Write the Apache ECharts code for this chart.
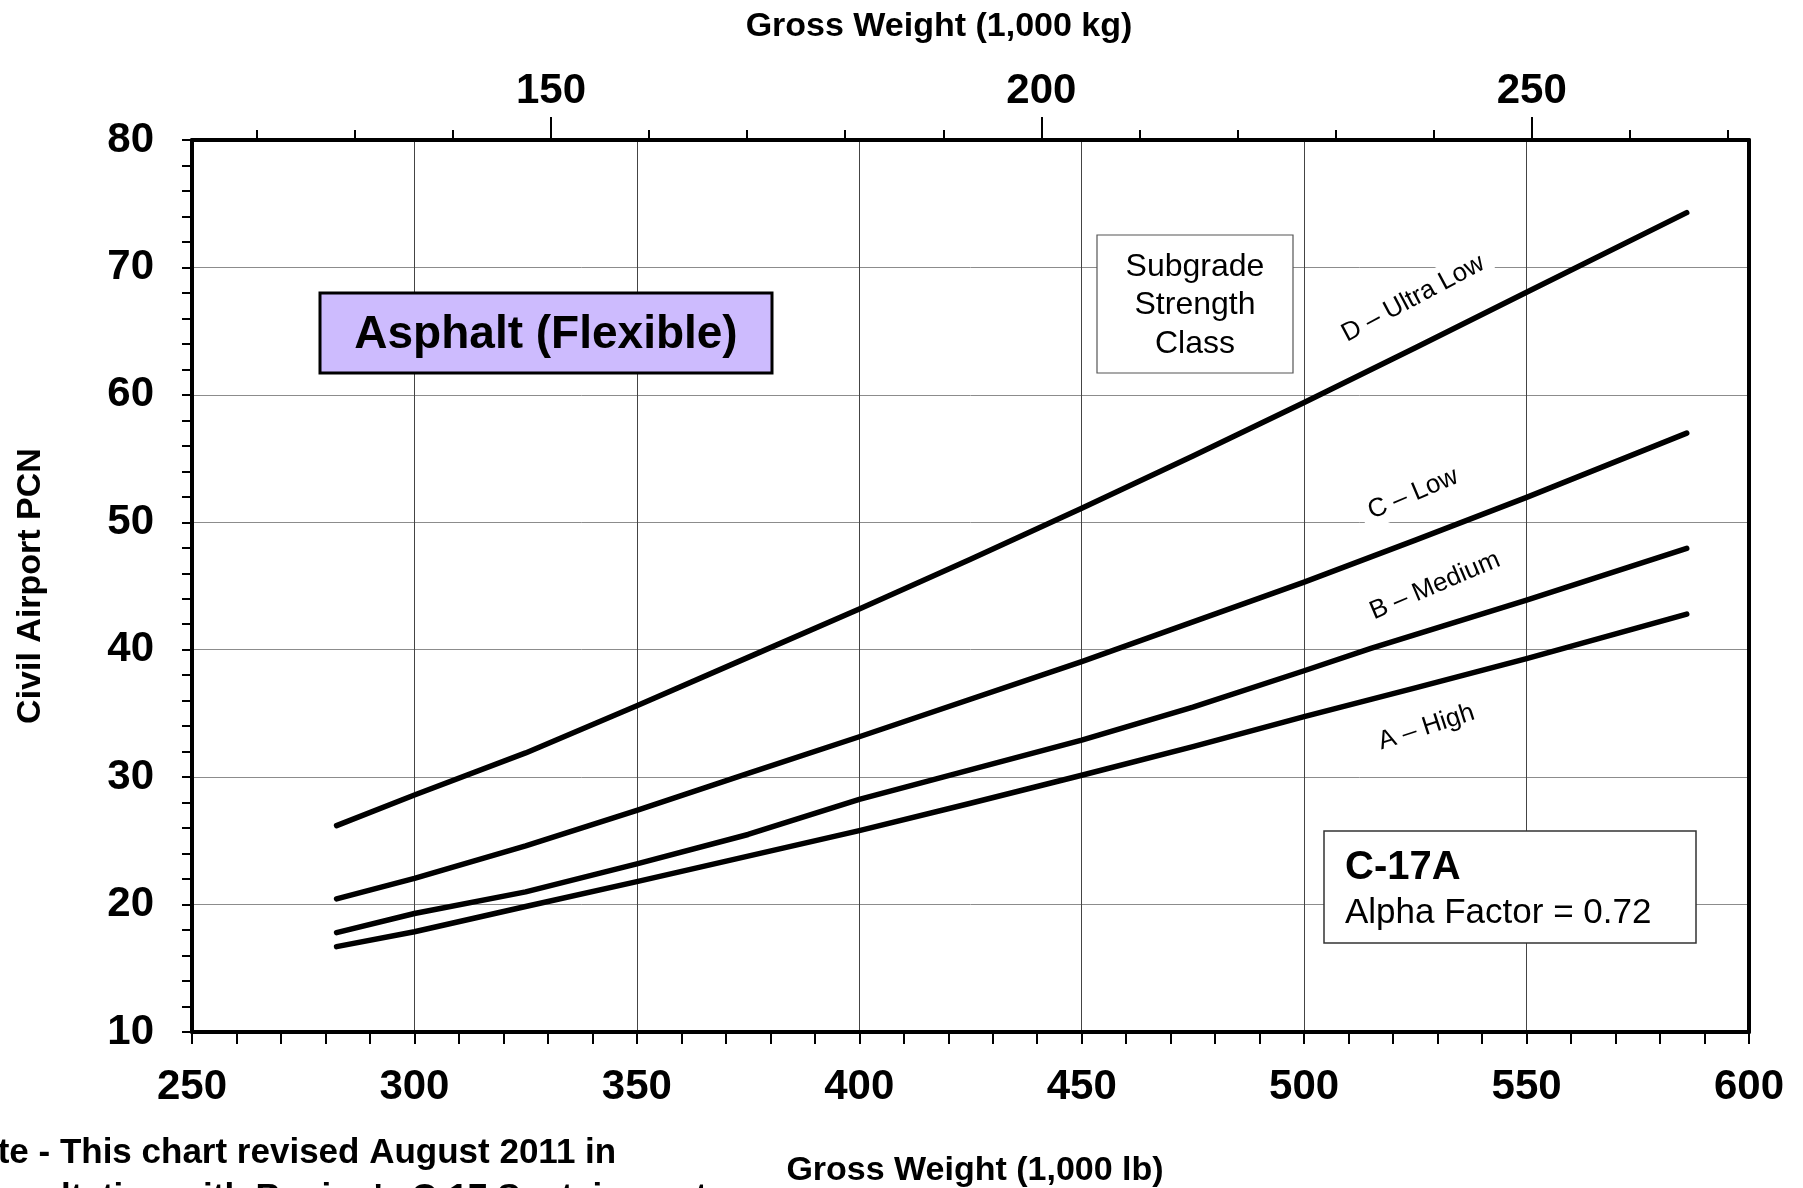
<!DOCTYPE html>
<html><head><meta charset="utf-8">
<script src="https://cdn.jsdelivr.net/npm/echarts@6/dist/echarts.min.js"></script>
<style>html,body{margin:0;padding:0;background:#fff}#c{width:1803px;height:1188px}</style>
</head><body><div id="c"></div>
<script>
// ---- data (Gross weight in 1,000 lb, Civil Airport PCN) ----
const seriesNames = ['D \u2013 Ultra Low', 'C \u2013 Low', 'B \u2013 Medium', 'A \u2013 High'];
const dUltraLow = [[282.5,26.2],[300,28.6],[325,31.9],[350,35.6],[375,39.4],[400,43.2],[425,47.1],[450,51.1],[475,55.2],[500,59.4],[525,63.7],[550,68.05],[586,74.3]];
const cLow      = [[282.5,20.45],[300,22.05],[325,24.6],[350,27.4],[375,30.3],[400,33.17],[450,39.06],[500,45.3],[525,48.6],[550,51.95],[586,57.0]];
const bMedium   = [[282.5,17.8],[300,19.3],[325,21.0],[350,23.2],[375,25.5],[400,28.25],[450,32.9],[475,35.5],[500,38.35],[515,40.1],[550,43.9],[586,47.95]];
const aHigh     = [[282.5,16.7],[300,17.87],[325,19.85],[350,21.8],[375,23.8],[400,25.8],[425,27.95],[450,30.15],[475,32.4],[500,34.75],[525,37.0],[550,39.3],[586,42.8]];
const labelAnchors = [[524.5,67.55],[524.5,52.23],[529.4,45.02],[527.5,33.91]];
const labelAngles = [28, 23, 23, 18];
const kgLabelTicks = [150, 200, 250];
const kgMinorTicks = [120,130,140,150,160,170,180,190,200,210,220,230,240,250,260,270];
const LB_TO_KG = 0.45359237;
const lbMin = 250, lbMax = 600, pcnMin = 10, pcnMax = 80;

const chart = echarts.init(document.getElementById('c'));
const tickFont = {fontFamily:'Liberation Sans, Arial, sans-serif', fontWeight:'bold', fontSize:42, color:'#000'};
const allData = [dUltraLow, cLow, bMedium, aHigh];

chart.setOption({
  animation:false,
  grid:{left:192, right:54, top:140, bottom:156},
  xAxis:[
    {type:'value', position:'bottom', min:lbMin, max:lbMax, interval:50,
     axisLine:{show:true, lineStyle:{color:'#000', width:4}},
     axisTick:{show:true, inside:false, length:12, lineStyle:{color:'#000', width:2}},
     minorTick:{show:true, splitNumber:5, length:12, lineStyle:{color:'#000', width:2}},
     axisLabel:Object.assign({margin:34}, tickFont),
     splitLine:{show:true, lineStyle:{color:'#444', width:1}}},
    {type:'value', position:'top', min:lbMin*LB_TO_KG, max:lbMax*LB_TO_KG,
     axisLine:{show:true, onZero:false, lineStyle:{color:'#000', width:4}},
     axisTick:{show:true, inside:false, length:10, customValues:kgMinorTicks, lineStyle:{color:'#000', width:2}},
     axisLabel:{show:false}, splitLine:{show:false}},
    {type:'value', position:'top', min:lbMin*LB_TO_KG, max:lbMax*LB_TO_KG,
     axisLine:{show:false},
     axisTick:{show:true, inside:false, length:23, customValues:kgLabelTicks, lineStyle:{color:'#000', width:2}},
     axisLabel:Object.assign({margin:28, customValues:kgLabelTicks}, tickFont),
     splitLine:{show:false}}
  ],
  yAxis:[
    {type:'value', position:'left', min:pcnMin, max:pcnMax, interval:10,
     axisLine:{show:true, lineStyle:{color:'#000', width:4}},
     axisTick:{show:true, inside:false, length:10, lineStyle:{color:'#000', width:2}},
     minorTick:{show:true, splitNumber:5, length:10, lineStyle:{color:'#000', width:2}},
     axisLabel:Object.assign({margin:38}, tickFont),
     splitLine:{show:true, lineStyle:{color:'#8c8c8c', width:1}}},
    {type:'value', position:'right', min:pcnMin, max:pcnMax,
     axisLine:{show:true, lineStyle:{color:'#000', width:4}},
     axisTick:{show:false}, axisLabel:{show:false}, splitLine:{show:false}}
  ],
  series: allData.map((d,i)=>({
    name:seriesNames[i], type:'line', data:d, xAxisIndex:0, yAxisIndex:0,
    showSymbol:false, symbol:'none', smooth:false, z:5,
    lineStyle:{color:'#000', width:5.5, cap:'round', join:'round'}
  }))
});

const graphics = [];
const F = 'Liberation Sans, Arial, sans-serif';
// titles
graphics.push({type:'text', x:939, y:27, z:20, style:{text:'Gross Weight (1,000 kg)', font:'bold 34px '+F, fill:'#000', align:'center', verticalAlign:'middle'}});
graphics.push({type:'text', x:975, y:1171, z:20, style:{text:'Gross Weight (1,000 lb)', font:'bold 34px '+F, fill:'#000', align:'center', verticalAlign:'middle'}});
graphics.push({type:'text', x:31, y:586, rotation:Math.PI/2, z:20, style:{text:'Civil Airport PCN', font:'bold 34px '+F, fill:'#000', align:'center', verticalAlign:'middle'}});
// note
graphics.push({type:'text', x:-49, y:1153, z:20, style:{text:'Note - This chart revised August 2011 in', font:'bold 35px '+F, fill:'#000', align:'left', verticalAlign:'middle'}});
graphics.push({type:'text', x:-42, y:1198, z:20, style:{text:"consultation with Boeing's C-17 Sustainment", font:'bold 35px '+F, fill:'#000', align:'left', verticalAlign:'middle'}});
// Asphalt box
graphics.push({type:'rect', z:10, shape:{x:320, y:293, width:452, height:80}, style:{fill:'#cdbbfe', stroke:'#000', lineWidth:3}});
graphics.push({type:'text', x:546, y:335, z:11, style:{text:'Asphalt (Flexible)', font:'bold 46px '+F, fill:'#000', align:'center', verticalAlign:'middle'}});
// Subgrade box
graphics.push({type:'rect', z:10, shape:{x:1097, y:235, width:196, height:138}, style:{fill:'#fff', stroke:'#555', lineWidth:1.2}});
['Subgrade','Strength','Class'].forEach((t,i)=>{
  graphics.push({type:'text', x:1195, y:267+i*38.5, z:11, style:{text:t, font:'32px '+F, fill:'#000', align:'center', verticalAlign:'middle'}});
});
// C-17A box
graphics.push({type:'rect', z:10, shape:{x:1324, y:831, width:372, height:112}, style:{fill:'#fff', stroke:'#333', lineWidth:1.5}});
graphics.push({type:'text', x:1345, y:868, z:11, style:{text:'C-17A', font:'bold 40px '+F, fill:'#000', align:'left', verticalAlign:'middle'}});
graphics.push({type:'text', x:1345, y:913, z:11, style:{text:'Alpha Factor = 0.72', font:'35px '+F, fill:'#000', align:'left', verticalAlign:'middle'}});
// curve labels
labelAnchors.forEach((p,i)=>{
  const px = chart.convertToPixel({xAxisIndex:0, yAxisIndex:0}, p);
  graphics.push({type:'text', x:px[0], y:px[1], rotation:labelAngles[i]*Math.PI/180, z:8,
    style:{text:seriesNames[i], font:'26px '+F, fill:'#000', align:'center', verticalAlign:'middle', backgroundColor:'#fff', padding:[4,8]}});
});
chart.setOption({graphic:graphics});
</script></body></html>
